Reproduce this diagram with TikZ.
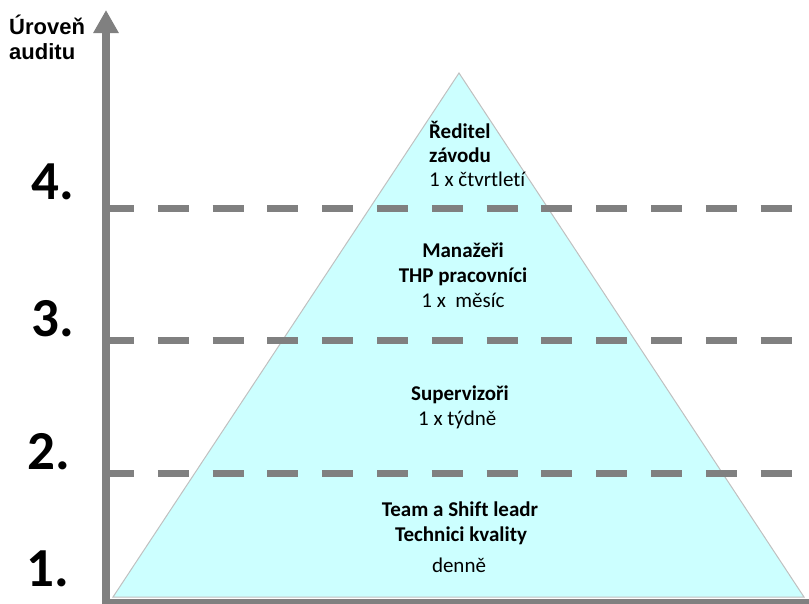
\documentclass[tikz,border=0pt]{standalone}
\usepackage{fontspec}
\setmainfont[Ligatures={NoCommon}]{Carlito}
\newfontfamily\axisfont{Liberation Sans}
\usetikzlibrary{arrows.meta}
\definecolor{axisgray}{HTML}{808080}
\definecolor{pyrfill}{HTML}{CCFFFF}
\definecolor{pyredge}{HTML}{C0C0C0}
\begin{document}
\begin{tikzpicture}[x=1pt,y=-1pt,
  txt/.style={inner sep=0pt, font=\fontsize{21}{24}\selectfont},
  boldtxt/.style={inner sep=0pt, font=\fontsize{21}{24}\selectfont\bfseries},
  levelnum/.style={inner sep=0pt, anchor=base west, font=\fontsize{55}{60}\selectfont\bfseries},
  axislabel/.style={inner sep=0pt, anchor=base west, font=\axisfont\fontsize{22}{24}\selectfont\bfseries},
  levelline/.style={draw=axisgray, line width=7pt, dash pattern=on 31pt off 23.8pt},
  axisline/.style={draw=axisgray, line width=8pt}]
\useasboundingbox (0,0) rectangle (809,603);
\clip (0,0) rectangle (809,603);

% pyramid
\coordinate (apex) at (459,73);
\coordinate (baseL) at (113,597);
\coordinate (baseR) at (804,597);
\filldraw[fill=pyrfill, draw=pyredge, line width=1pt] (baseL) -- (apex) -- (baseR) -- cycle;

% dashed level boundaries
\coordinate (l4a) at (103,208);   \coordinate (l4b) at (812,208);
\coordinate (l3a) at (103,340);   \coordinate (l3b) at (812,340);
\coordinate (l2a) at (103,473.5); \coordinate (l2b) at (812,473.5);
\draw[levelline] (l4a) -- (l4b);
\draw[levelline] (l3a) -- (l3b);
\draw[levelline] (l2a) -- (l2b);

% axes
\coordinate (origin) at (106,603);
\coordinate (top) at (106,10);
\coordinate (floorL) at (102,601.5);
\coordinate (floorR) at (812,601.5);
\draw[draw=axisgray, line width=5pt] (floorL) -- (floorR);
\draw[axisline, -{Triangle[width=24pt,length=23pt]}] (origin) -- (top);

% axis caption
\node[axislabel] (cap1) at (9,34) {Úroveň};
\node[axislabel] (cap2) at (9,59) {auditu};

% level numbers
\node[levelnum] (n4) at (31,199) {4.};
\node[levelnum] (n3) at (31,336.7) {3.};
\node[levelnum] (n2) at (27,469) {2.};
\node[levelnum] (n1) at (26,586) {1.};

% level 4
\node[boldtxt, anchor=base west] (t4a) at (429,138.3) {Ředitel};
\node[boldtxt, anchor=base west] (t4b) at (429,162.7) {závodu};
\node[txt, anchor=base west] (t4c) at (429,186) {1 x čtvrtletí};

% level 3
\node[boldtxt, anchor=base] (t3a) at (463,257.3) {Manažeři};
\node[boldtxt, anchor=base] (t3b) at (463,282.3) {THP pracovníci};
\node[txt, anchor=base] (t3c) at (463,307.3) {1 x\ \ měsíc};

% level 2
\node[boldtxt, anchor=base] (t2a) at (460,400) {Supervizoři};
\node[txt, anchor=base west] (t2b) at (418,425) {1 x týdně};

% level 1
\node[boldtxt, anchor=base] (t1a) at (460,516.7) {Team a Shift leadr};
\node[boldtxt, anchor=base] (t1b) at (461,541.7) {Technici kvality};
\node[txt, anchor=base] (t1c) at (459,572.7) {denně};
\end{tikzpicture}
\end{document}
